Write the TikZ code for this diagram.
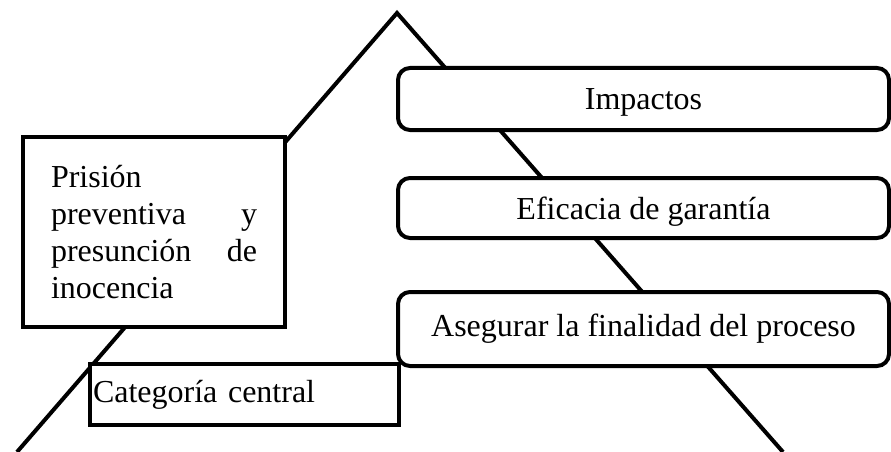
\documentclass[tikz,border=0pt]{standalone}
\usepackage{fontspec}
\setmainfont{Liberation Serif}

\begin{document}
\begin{tikzpicture}[x=1pt, y=-1pt,
        edge/.style=
            {
                draw = black,
                line width = 4pt,
                line join = miter
            },
        central/.style=
            {
                rectangle,
                draw = black,
                line width = 4pt,
                fill = white,
                inner sep = 0pt,
                align = left,
                font = \fontsize{32}{37}\selectfont
            },
        item/.style=
            {
                rectangle,
                draw = black,
                line width = 4pt,
                fill = white,
                rounded corners = 12pt,
                inner sep = 0pt,
                minimum width = 491pt,
                align = center,
                font = \fontsize{32}{37}\selectfont
            }
    ]

    \useasboundingbox (0,0) rectangle (891,452);

    % triangle
    \coordinate (apex) at (397,13);
    \coordinate (baseL) at (17,452);
    \coordinate (baseR) at (783,452);
    \draw[edge] (baseL) -- (apex) -- (baseR);

    \draw (154,232) node[central, minimum width = 262pt, minimum height = 190pt, text width = 206pt] (tema)
        {Prisión\\ preventiva\hfill y\\ presunción\hfill de\\ inocencia};

    \draw (244.5,394.5) node[central, minimum width = 309pt, minimum height = 61pt, text width = 303pt] (cat)
        {\raisebox{5pt}{Categoría central}};

    \draw (643.5,99) node[item, minimum height = 62pt, text depth = 0pt] (imp) {Impactos};
    \draw (643.5,208) node[item, minimum height = 60pt, text depth = 0pt] (efi) {Eficacia de garantía};
    \draw (643.5,329) node[item, minimum height = 74pt] (ase) {Asegurar la finalidad del proceso};

\end{tikzpicture}
\end{document}
